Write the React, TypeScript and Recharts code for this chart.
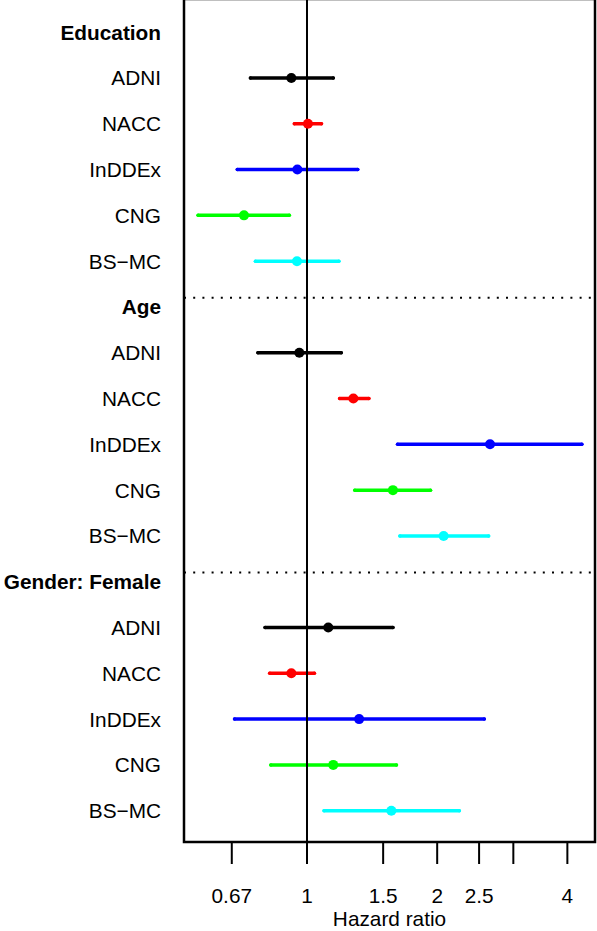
import {
  ScatterChart,
  Scatter,
  ErrorBar,
  XAxis,
  YAxis,
  ReferenceLine,
  ReferenceArea,
} from "recharts";

const covariates = ["Education", "Age", "Gender: Female"];
const cohorts = ["ADNI", "NACC", "InDDEx", "CNG", "BS\u2212MC"];
const cohortColors = ["#000000", "#FF0000", "#0000FF", "#00FF00", "#00FFFF"];

// hazard ratio, lower and upper CI per cohort (order: Education, Age, Gender)
const hrADNI = [0.92, 0.96, 1.12];
const loADNI = [0.74, 0.77, 0.8];
const hiADNI = [1.15, 1.2, 1.58];

const hrNACC = [1.005, 1.28, 0.92];
const loNACC = [0.935, 1.19, 0.82];
const hiNACC = [1.08, 1.39, 1.04];

const hrInDDEx = [0.95, 2.65, 1.32];
const loInDDEx = [0.69, 1.62, 0.68];
const hiInDDEx = [1.31, 4.32, 2.57];

const hrCNG = [0.715, 1.58, 1.15];
const loCNG = [0.56, 1.29, 0.825];
const hiCNG = [0.91, 1.93, 1.61];

const hrBSMC = [0.948, 2.07, 1.567];
const loBSMC = [0.76, 1.64, 1.095];
const hiBSMC = [1.185, 2.63, 2.25];

const xTicks = [0.67, 1, 1.5, 2, 2.5, 3, 4];
const xTickLabels = ["0.67", "1", "1.5", "2", "2.5", "", "4"];

const hrAll = [hrADNI, hrNACC, hrInDDEx, hrCNG, hrBSMC];
const loAll = [loADNI, loNACC, loInDDEx, loCNG, loBSMC];
const hiAll = [hiADNI, hiNACC, hiInDDEx, hiCNG, hiBSMC];

const rowLabels = covariates.flatMap((c) => [c, ...cohorts]);
const rowTicks = rowLabels.map((_, i) => i);

const series = cohorts.map((name, k) => ({
  name,
  color: cohortColors[k],
  data: covariates.map((_, c) => ({
    hr: hrAll[k][c],
    row: c * (cohorts.length + 1) + 1 + k,
    ci: [hrAll[k][c] - loAll[k][c], hiAll[k][c] - hrAll[k][c]],
  })),
}));

const X_MIN = 0.5195;
const X_MAX = 4.634;
const Y_MIN = -0.725;
const Y_MAX = 17.684;
const FONT_SIZE = 20.8;

function RowTick(props: any) {
  const { x, y, payload } = props;
  const isHeader = payload.value % (cohorts.length + 1) === 0;
  return (
    <text
      x={x}
      y={y}
      dy="0.36em"
      textAnchor="end"
      fontSize={FONT_SIZE}
      fontWeight={isHeader ? "bold" : "normal"}
      fill="#000"
    >
      {rowLabels[payload.value]}
    </text>
  );
}

export default function App() {
  return (
    <div
      style={{
        position: "absolute",
        left: 0,
        top: -2,
        fontFamily: "'Liberation Sans', Arial, Helvetica, sans-serif",
      }}
    >
      <ScatterChart
        width={597}
        height={933}
        margin={{ top: 1, right: 2, bottom: 0, left: 0 }}
      >
        <XAxis
          type="number"
          dataKey="hr"
          scale="log"
          domain={[X_MIN, X_MAX]}
          allowDataOverflow
          ticks={xTicks}
          interval={0}
          tickFormatter={(v: number) => xTickLabels[xTicks.indexOf(v)] ?? String(v)}
          tickSize={22}
          tickMargin={24}
          axisLine={false}
          tickLine={{ stroke: "#000", strokeWidth: 2 }}
          tick={{ fill: "#000", fontSize: FONT_SIZE }}
          height={89}
          label={{
            value: "Hazard ratio",
            position: "insideBottom",
            offset: 5,
            fontSize: FONT_SIZE,
            fill: "#000",
          }}
        />
        <YAxis
          type="number"
          dataKey="row"
          domain={[Y_MIN, Y_MAX]}
          reversed
          allowDataOverflow
          ticks={rowTicks}
          interval={0}
          tick={<RowTick />}
          tickSize={0}
          tickMargin={23}
          axisLine={false}
          tickLine={false}
          width={184}
        />
        <ReferenceLine
          y={5.8}
          stroke="#000"
          strokeWidth={2}
          strokeDasharray="2 7.2"
        />
        <ReferenceLine
          y={11.8}
          stroke="#000"
          strokeWidth={2}
          strokeDasharray="2 7.2"
        />
        {series.map((s) => (
          <Scatter
            key={s.name}
            name={s.name}
            data={s.data}
            fill={s.color}
            isAnimationActive={false}
            shape={(p: any) => <circle cx={p.cx} cy={p.cy} r={5} fill={s.color} />}
          >
            <ErrorBar
              dataKey="ci"
              direction="x"
              width={0}
              stroke={s.color}
              strokeWidth={3.5}
              strokeLinecap="round"
              isAnimationActive={false}
            />
          </Scatter>
        ))}
        <ReferenceLine x={1} stroke="#000" strokeWidth={2} />
        <ReferenceArea
          x1={X_MIN}
          x2={X_MAX}
          y1={Y_MIN}
          y2={Y_MAX}
          fill="none"
          stroke="#000"
          strokeWidth={2.5}
          fillOpacity={0}
          ifOverflow="visible"
        />
      </ScatterChart>
    </div>
  );
}
